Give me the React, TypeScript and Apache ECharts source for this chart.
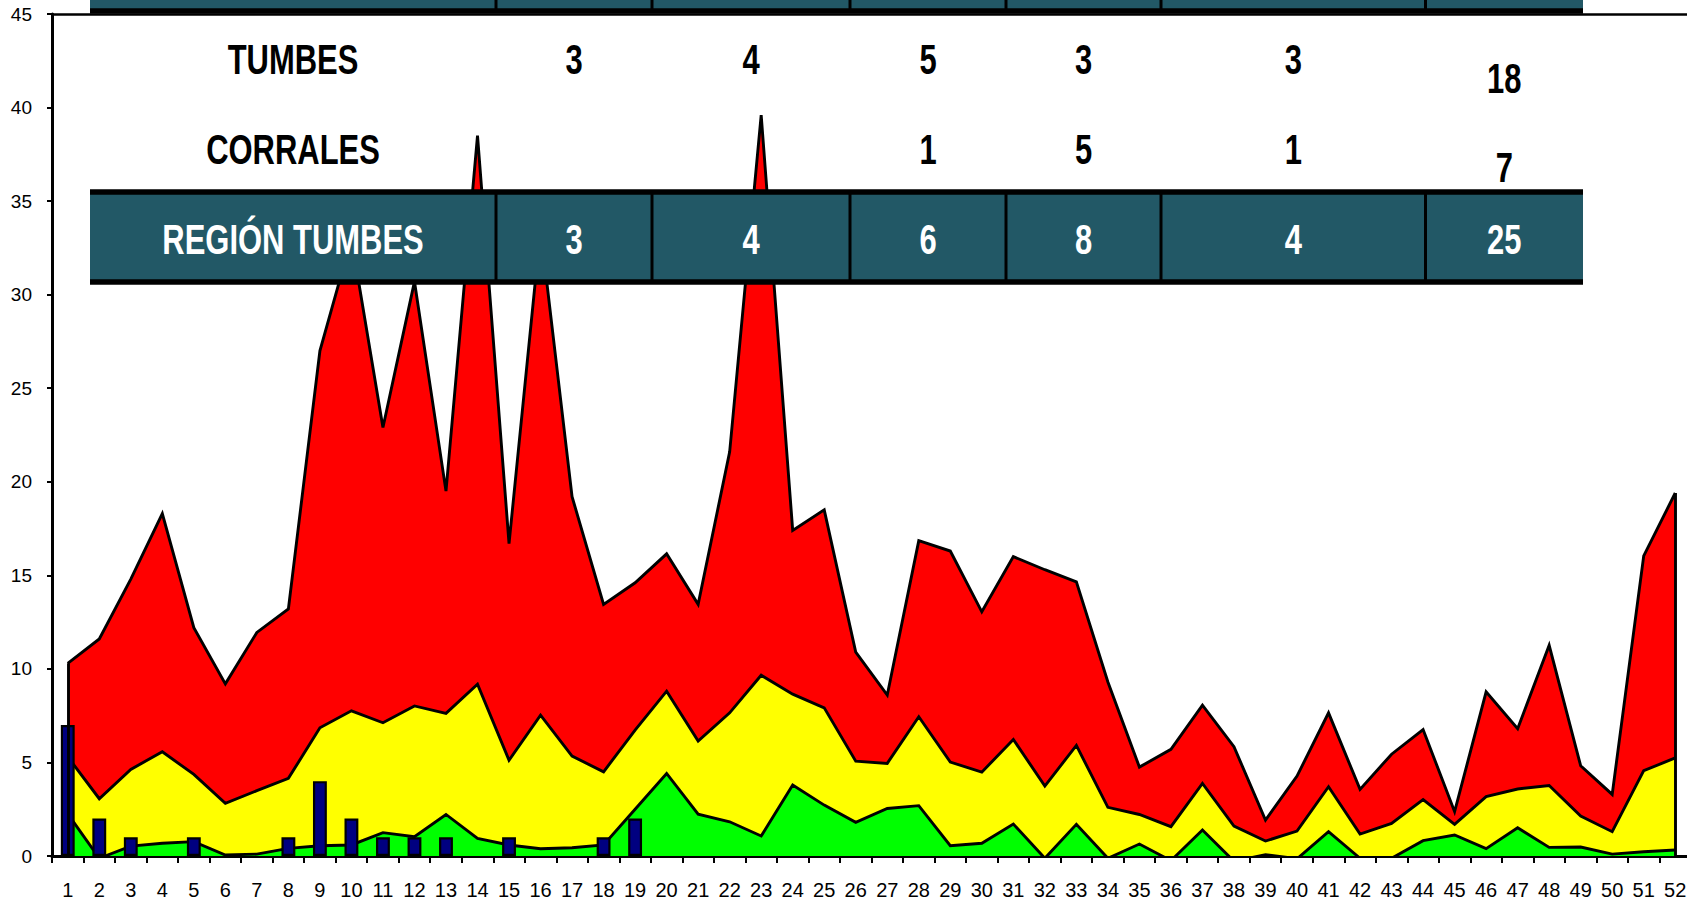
import { useEffect, useRef } from "react";
import * as echarts from "echarts";

// Epidemiological weeks (x-axis tick labels)
const weeks = [
  "1", "2", "3", "4", "5", "6", "7", "8", "9", "10", "11", "12", "13",
  "14", "15", "16", "17", "18", "19", "20", "21", "22", "23", "24", "25", "26",
  "27", "28", "29", "30", "31", "32", "33", "34", "35", "36", "37", "38", "39",
  "40", "41", "42", "43", "44", "45", "46", "47", "48", "49", "50", "51", "52",
];

// Upper limit of the endemic channel (top of red zone)
const upperLimit = [
  10.3, 11.6, 14.8, 18.3, 12.2, 9.2, 11.95, 13.2, 27.0, 33.0, 22.9, 30.7, 19.5,
  38.5, 16.7, 33.5, 19.2, 13.45, 14.6, 16.15, 13.45, 21.6, 39.6, 17.4, 18.5, 10.9,
  8.6, 16.85, 16.3, 13.05, 16.0, 15.3, 14.65, 9.3, 4.75, 5.7, 8.06, 5.84, 1.92,
  4.27, 7.65, 3.56, 5.44, 6.76, 2.37, 8.77, 6.8, 11.26, 4.82, 3.29, 16.04, 19.4,
];

// Median line (top of yellow zone)
const medianLimit = [
  5.3, 3.06, 4.63, 5.57, 4.36, 2.81, 3.49, 4.15, 6.85, 7.76, 7.12, 8.02, 7.62,
  9.18, 5.12, 7.53, 5.34, 4.5, 6.73, 8.81, 6.14, 7.65, 9.66, 8.65, 7.92, 5.07,
  4.95, 7.44, 5.02, 4.48, 6.23, 3.74, 5.91, 2.6, 2.22, 1.57, 3.88, 1.6, 0.8,
  1.33, 3.7, 1.17, 1.74, 3.02, 1.69, 3.17, 3.58, 3.77, 2.14, 1.3, 4.56, 5.24,
];

// Lower limit (top of green zone)
const lowerLimit = [
  2.25, -0.12, 0.53, 0.68, 0.77, 0.05, 0.1, 0.41, 0.55, 0.59, 1.25, 1.03, 2.22,
  0.94, 0.59, 0.39, 0.44, 0.59, 2.5, 4.41, 2.24, 1.83, 1.07, 3.79, 2.72, 1.8,
  2.54, 2.69, 0.55, 0.68, 1.71, -0.12, 1.69, -0.12, 0.64, -0.25, 1.39, -0.28, 0.07,
  -0.15, 1.3, -0.12, -0.12, 0.82, 1.12, 0.39, 1.51, 0.46, 0.48, 0.1, 0.23, 0.32,
];

// Reported cases per week
const cases = [
  7, 2, 1, 0, 1, 0, 0, 1, 4, 2, 1, 1, 1, 0, 1, 0, 0, 1, 2, 0, 0, 0, 0, 0, 0, 0,
  0, 0, 0, 0, 0, 0, 0, 0, 0, 0, 0, 0, 0, 0, 0, 0, 0, 0, 0, 0, 0, 0, 0, 0, 0, 0,
];

// Overlay table contents
const tableRowLabels = ["TUMBES", "CORRALES", "REGIÓN TUMBES"];
const tumbesRow = ["3", "4", "5", "3", "3", "18"];
const corralesRow = ["", "", "1", "5", "1", "7"];
const regionRow = ["3", "4", "6", "8", "4", "25"];

const TEAL = "#225866";
const colEdges = [90, 496, 652, 850, 1006, 1161, 1425.5, 1583];
const rowCenters = [59, 148.7, 239.5];
const lastColOffsets = [19, 18, 0];
const TABLE_FONT = "bold 43px 'Liberation Sans', Arial, sans-serif";
const LINE_W = 2.9;

function buildTable(): any[] {
  const els: any[] = [];
  const L = colEdges[0];
  const R = colEdges[colEdges.length - 1];
  els.push({ type: "rect", z: 100, shape: { x: L, y: 0, width: R - L, height: 10 }, style: { fill: TEAL } });
  els.push({ type: "rect", z: 100, shape: { x: L, y: 193, width: R - L, height: 88 }, style: { fill: TEAL } });
  [11, 192, 282].forEach((y) =>
    els.push({ type: "line", z: 102, shape: { x1: L, y1: y, x2: R, y2: y }, style: { stroke: "#000", lineWidth: 5.5 } })
  );
  colEdges.slice(1, -1).forEach((x) => {
    els.push({ type: "line", z: 101, shape: { x1: x, y1: 0, x2: x, y2: 10 }, style: { stroke: "#000", lineWidth: 3 } });
    els.push({ type: "line", z: 101, shape: { x1: x, y1: 193, x2: x, y2: 281 }, style: { stroke: "#000", lineWidth: 3 } });
  });
  const rows = [tumbesRow, corralesRow, regionRow];
  tableRowLabels.forEach((label, r) => {
    const color = r === 2 ? "#ffffff" : "#000000";
    els.push({
      type: "text", z: 103,
      x: (colEdges[0] + colEdges[1]) / 2, y: rowCenters[r], scaleX: 0.72,
      style: { text: label, font: TABLE_FONT, fill: color, align: "center", verticalAlign: "middle" },
    });
    rows[r].forEach((v, c) => {
      if (!v) return;
      const last = c === rows[r].length - 1;
      els.push({
        type: "text", z: 103,
        x: (colEdges[c + 1] + colEdges[c + 2]) / 2,
        y: rowCenters[r] + (last ? lastColOffsets[r] : 0),
        scaleX: 0.72,
        style: { text: v, font: TABLE_FONT, fill: color, align: "center", verticalAlign: "middle" },
      });
    });
  });
  return els;
}

export default function App() {
  const ref = useRef<HTMLDivElement>(null);

  useEffect(() => {
    if (!ref.current) return;
    const chart = echarts.init(ref.current, null, { renderer: "svg" });

    const greenBand = lowerLimit;
    const yellowBand = medianLimit.map((v, i) => +(v - lowerLimit[i]).toFixed(3));
    const redBand = upperLimit.map((v, i) => +(v - medianLimit[i]).toFixed(3));
    const boundaryLine = (data: number[], extra: any = {}) => ({
      type: "line",
      data,
      symbol: "none",
      z: 3,
      silent: true,
      lineStyle: { color: "#000", width: LINE_W, join: "miter" },
      ...extra,
    });
    const bandArea = (data: number[], color: string) => ({
      type: "line",
      data,
      stack: "canal",
      stackStrategy: "all",
      symbol: "none",
      silent: true,
      z: 2,
      lineStyle: { width: 0 },
      areaStyle: { color, opacity: 1 },
    });

    const last = weeks.length - 1;
    chart.setOption({
      animation: false,
      backgroundColor: "#ffffff",
      grid: { left: 52, top: 14, width: 1639, height: 842, outerBoundsMode: "none", containLabel: false },
      xAxis: [
        {
          type: "category",
          data: weeks,
          boundaryGap: true,
          axisLine: { show: true, lineStyle: { color: "#000", width: 3.2 } },
          axisTick: { show: true, length: 7, lineStyle: { color: "#000", width: 2 } },
          axisLabel: {
            interval: 0,
            color: "#000",
            fontSize: 20,
            fontFamily: "'Liberation Sans', Arial, sans-serif",
            margin: 24,
          },
          splitLine: { show: false },
        },
        {
          type: "category",
          data: weeks,
          position: "top",
          axisLine: { show: true, lineStyle: { color: "#000", width: 2.5 } },
          axisTick: { show: false },
          axisLabel: { show: false },
          splitLine: { show: false },
        },
      ],
      yAxis: {
        type: "value",
        min: 0,
        max: 45,
        interval: 5,
        axisLine: { show: true, lineStyle: { color: "#000", width: 3 } },
        axisTick: { show: true, length: 5, lineStyle: { color: "#000", width: 2 } },
        axisLabel: {
          color: "#000",
          fontSize: 19,
          fontFamily: "'Liberation Sans', Arial, sans-serif",
          margin: 20,
          padding: [10, 0, 0, 0],
        },
        splitLine: { show: false },
      },
      series: [
        bandArea(greenBand, "#00ff00"),
        bandArea(yellowBand, "#ffff00"),
        bandArea(redBand, "#ff0000"),
        boundaryLine(upperLimit, {
          markLine: {
            silent: true,
            symbol: "none",
            label: { show: false },
            lineStyle: { color: "#000", width: LINE_W, type: "solid" },
            data: [
              [{ coord: [weeks[0], 0] }, { coord: [weeks[0], upperLimit[0]] }],
              [{ coord: [weeks[last], 0] }, { coord: [weeks[last], upperLimit[last]] }],
            ],
          },
        }),
        boundaryLine(medianLimit),
        boundaryLine(lowerLimit),
        {
          type: "bar",
          data: cases.map((v) => (v === 0 ? null : v)),
          barWidth: "44%",
          z: 4,
          silent: true,
          itemStyle: { color: "#000080", borderColor: "#000", borderWidth: 2.2 },
        },
      ],
      graphic: buildTable(),
    });

    return () => chart.dispose();
  }, []);

  return (
    <div
      ref={ref}
      style={{ position: "fixed", left: 0, top: 0, width: 1687, height: 906, background: "#fff" }}
    />
  );
}
